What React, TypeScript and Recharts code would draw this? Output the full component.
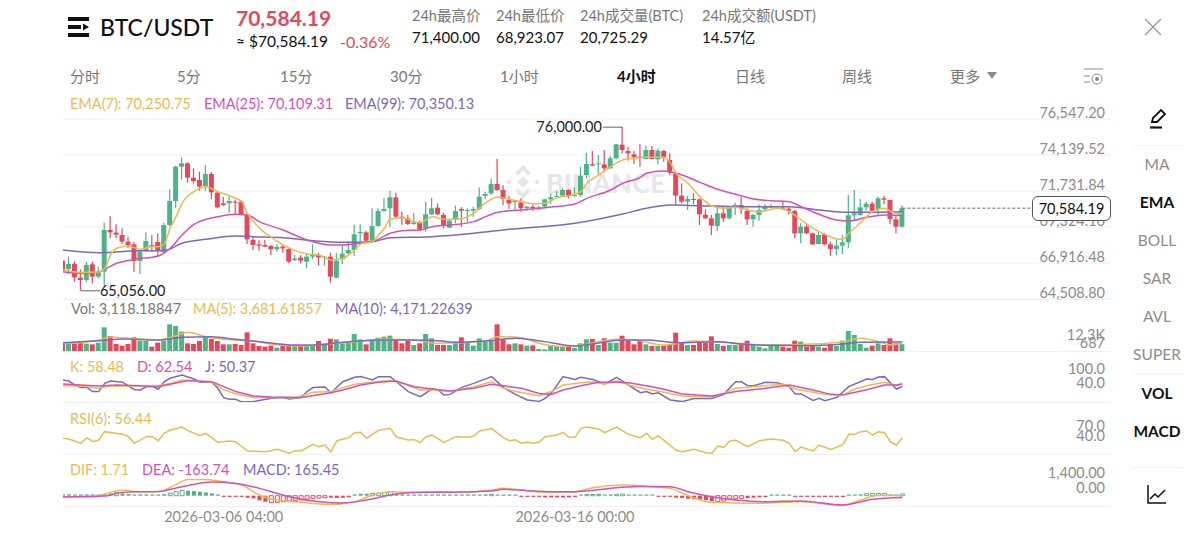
import React from 'react'
import { Bar, CartesianGrid, Cell, ComposedChart, Line, ReferenceDot, ReferenceLine, XAxis, YAxis } from 'recharts'

// 4h candles
const opens = [
  67074,66517,66851,65937,65781,66829,66004,66339,69125,68947,
  68790,68345,68166,67052,67788,68100,68322,67676,69459,71064,
  73360,73583,72624,72468,72067,72870,71621,70908,70908,71020,
  71020,70172,68456,68166,68122,68055,67832,68010,67854,67119,
  67275,67007,67342,67453,67275,67342,65937,67163,67565,67787,
  68902,68969,68411,69392,70395,70574,71309,70017,69905,69526,
  69637,69236,70172,70618,70128,69281,69838,70529,70395,70418,
  70529,71398,71577,72201,71800,71131,71020,70975,70574,70685,
  70574,70685,71176,71332,71421,71800,71398,71465,72803,73516,
  73516,73516,73249,73917,74831,74408,74185,74029,73873,74474,
  73850,74408,73806,72914,71421,71020,71198,71176,70150,69905,
  69392,70239,69905,70685,70797,70395,69838,70128,70507,70641,
  70596,70618,70551,70395,68902,69348,68902,68189,68835,68166,
  67854,68077,68300,70106,70128,70641,70886,70507,71242,71131,
  69838,69348,
]
const highs = [
  67163,67342,67007,66495,67007,67007,66673,69615,70061,69504,
  69236,68679,68345,67788,68969,68790,68902,69615,71844,73427,
  73984,73650,73249,73026,73471,73026,71700,71354,71354,71131,
  71131,70239,68724,68456,68456,68122,68166,68122,67899,67453,
  67453,67498,68166,67609,67386,67609,67609,68122,68345,69459,
  69504,69080,70574,70574,71242,71755,71621,70351,70128,70239,
  69749,71020,71287,70908,70284,69838,70752,70641,70574,70685,
  71978,71688,72535,73873,72134,71421,71131,71242,70730,70774,
  70730,71220,71577,71755,71911,71844,71978,73360,74296,74408,
  74140,74474,74096,74876,76000,74697,74408,74853,74764,74742,
  74586,74474,74252,72959,72246,71398,71577,71220,70507,70128,
  70730,70685,70730,70953,71309,70574,70195,70841,70864,70864,
  70685,71020,70641,70462,69571,69459,68947,68969,68902,68345,
  68456,68790,71465,71800,71198,71020,71020,71354,71400,71150,
  70061,70774,
]
const lows = [
  66272,66183,65670,65056,65670,65558,65893,65447,68568,68568,
  68189,67899,66339,66183,67676,67676,67342,67565,69392,70574,
  72513,72290,72246,71755,71755,71176,70574,70730,70284,70128,
  70100,68189,67787,67743,67980,67453,67676,67609,66896,67052,
  66896,66561,67163,66740,66740,65603,65893,66851,67520,67386,
  68233,68345,68345,69348,70351,69303,69838,69459,69459,69459,
  69080,69013,70128,70128,69236,69236,69571,69348,69682,70017,
  70462,71176,71465,71755,70797,70529,70418,70351,70418,70418,
  70462,70641,70864,71309,71354,71242,71354,71354,72580,73405,
  72870,72981,73220,73850,74252,73761,73538,73360,73850,73850,
  73516,73694,72803,70797,70908,70462,70864,69459,69860,68790,
  69080,69682,69838,70128,70195,69459,69348,69749,70395,70574,
  70574,70462,70172,68568,68233,68857,68122,68166,68122,67386,
  67453,67498,67943,69749,70083,70418,70284,70061,70841,69526,
  68902,69281,
]
const closes = [
  66450,66851,65960,65781,66784,66004,66316,69125,68969,68813,
  68345,68122,67052,67676,68389,68010,67721,69459,71064,73360,
  73583,72624,72402,72023,72870,71644,70641,70797,71064,70953,
  70128,68501,68122,68077,68010,67832,67988,67899,67007,67208,
  67074,67342,67498,67297,67342,66004,67074,67542,67787,68835,
  68991,68411,69392,70395,70529,71309,70017,69905,69526,69637,
  69169,70172,70574,70172,69415,69749,70395,70418,70462,70529,
  71354,71532,72201,71800,71198,70908,71064,70574,70685,70596,
  70641,71176,71309,71398,71800,71421,71465,72758,73538,73427,
  73583,73249,73917,74853,74474,74252,73984,73984,74474,73873,
  74430,73984,72959,71421,71020,71198,71131,70172,69905,69415,
  70239,69905,70641,70797,70574,69838,70128,70462,70685,70685,
  70641,70574,70418,68902,69348,68902,68166,68790,68166,67854,
  68077,68300,70106,70239,70641,70886,70418,71242,71153,69860,
  69348,70584.19,
]
const volumes = [
  3542,3542,3850,4620,3388,3080,3850,10934,6930,3234,
  2464,3234,6314,4774,4620,2002,3850,4774,12320,11550,
  8932,3542,3234,4620,6622,5544,4620,3080,3080,3234,
  2772,8624,3542,2310,2002,2464,1540,2310,2464,2464,
  2310,2464,2464,4620,2772,5698,5390,3542,4312,7854,
  5390,3080,5236,6160,6622,7084,5544,3542,4620,2772,
  3542,7854,5852,2772,2772,2772,4312,6314,3850,2464,
  5852,4312,4774,12320,5390,3080,3542,3080,2464,2618,
  924,770,2464,2002,2002,2002,1386,3542,5390,5544,
  2772,5852,3850,3850,7084,4774,3080,4774,3080,2310,
  2310,2464,3080,8470,3850,2772,2772,4312,3850,6776,
  3234,2310,2772,2772,3080,4774,3080,2002,1232,2772,
  2310,2002,1540,4774,4312,2002,2464,2002,1540,3234,
  2310,4774,9240,7392,3234,1540,2464,3542,2772,5852,
  3542,3118,
]
const macdBars = [
  121,121,61,61,121,61,61,152,212,273,
  212,152,61,121,61,30,20,152,212,364,
  485,455,424,364,303,212,121,-61,-61,-61,
  -91,-182,-242,-424,-545,-636,-606,-545,-485,-424,
  -394,-303,-242,-212,-182,-182,-212,-182,-152,121,
  182,182,212,242,303,364,182,121,91,61,
  61,91,61,30,30,30,61,91,91,91,
  91,121,121,30,30,30,30,-61,-91,-61,
  -91,-152,-152,-152,-152,-152,-30,61,61,91,
  91,61,91,121,152,61,30,30,30,30,
  -30,-61,-61,-182,-212,-273,-303,-333,-394,-485,
  -545,-485,-303,-273,-242,-212,-182,-152,-121,61,
  91,91,61,-61,-61,-61,-61,-61,-121,-61,
  -121,-121,61,91,121,182,212,212,212,121,
  61,165.45,
]
const macdHollow = [9,18,19,20,35,36,37,38,39,40,41,42,43,44,52,53,54,55,72,88,89,90,93,94,110,111,112,113,114,135,136,137,138,141]

// line series: [candle index, value]
type Pt = [number, number]
const ema7: Pt[] = [[0,66450],[3,66294],[6,66316],[7,66561],[8,67453],[9,67899],[11,68055],[13,67832],[15,68010],[16,68010],[17,68189],[18,69236],[19,70017],[20,70908],[22,71688],[24,72023],[26,71688],[28,71398],[30,71020],[31,70239],[33,69236],[35,68634],[37,68122],[39,67743],[41,67520],[43,67453],[45,67119],[47,67230],[49,67787],[50,68189],[52,68345],[53,68791],[54,69236],[55,69860],[57,69950],[59,69682],[60,69615],[62,70017],[64,69838],[66,69838],[69,70239],[71,70953],[73,71309],[75,71176],[77,71020],[79,70864],[81,70908],[83,71287],[85,71421],[87,71688],[88,72246],[90,72803],[92,73360],[94,73806],[96,73917],[98,73984],[101,73984],[102,73627],[103,72914],[105,72246],[107,71354],[109,70730],[111,70574],[113,70641],[115,70462],[117,70351],[120,70574],[122,70351],[124,69794],[126,69236],[128,68835],[130,68523],[131,68501],[132,68902],[134,69615],[136,70351],[138,70574],[140,70195],[141,70250]]
const ema25: Pt[] = [[0,66339],[3,66227],[6,66339],[9,66896],[12,67163],[16,67386],[18,67899],[20,68791],[22,69504],[24,69838],[26,70017],[29,70172],[31,70128],[33,69682],[37,69125],[41,68456],[45,68122],[47,68122],[49,68189],[50,68233],[52,68345],[55,68902],[57,69080],[60,69125],[62,69348],[65,69459],[69,69682],[71,70017],[73,70306],[77,70462],[81,70618],[86,70864],[88,71242],[92,71800],[94,72246],[97,72647],[98,72914],[101,73070],[104,72803],[107,72312],[110,71844],[113,71510],[116,71198],[119,71086],[122,71020],[124,70685],[127,70172],[130,69794],[132,69727],[135,69972],[138,70128],[141,70109]]
const ema99: Pt[] = [[0,67787],[6,67609],[13,67743],[17,67743],[20,68233],[24,68501],[29,68724],[32,68680],[37,68612],[42,68411],[47,68300],[52,68345],[55,68612],[62,68680],[69,68902],[75,69169],[86,69571],[94,70195],[98,70574],[102,70797],[107,70752],[114,70685],[122,70685],[127,70462],[132,70306],[141,70350]]
const ma5: Pt[] = [[0,3542],[3,3850],[6,5082],[8,6468],[11,5852],[16,5082],[19,7084],[21,8624],[24,6622],[27,5390],[32,4620],[36,2772],[40,2310],[44,3080],[49,4312],[54,5390],[59,5082],[63,3542],[71,4620],[73,6622],[77,6160],[80,3542],[84,2002],[87,2772],[93,5390],[96,5082],[101,2772],[106,4620],[111,4004],[118,2772],[126,3234],[131,4312],[134,5852],[137,4312],[139,2772],[141,3681]]
const ma10: Pt[] = [[0,3850],[3,4312],[7,4928],[10,5544],[16,5082],[20,6314],[25,6622],[29,5390],[33,4312],[39,2772],[42,2772],[47,4004],[53,5082],[58,5082],[63,4774],[66,4004],[71,4620],[76,5852],[79,5082],[82,3850],[86,2310],[89,3234],[94,5082],[98,5082],[103,3850],[110,4312],[114,3234],[119,2618],[126,2464],[131,3234],[134,4004],[141,4171]]
const kdjK: Pt[] = [[0,54],[3,53],[6,43],[8,54],[12,53],[16,54],[18,64],[20,79],[22,74],[25,69],[27,36],[29,20],[32,4],[35,4],[39,3],[42,26],[45,29],[47,46],[49,60],[52,69],[55,77],[57,64],[60,36],[62,37],[65,29],[69,50],[72,71],[74,43],[76,29],[80,11],[82,29],[84,57],[87,67],[89,71],[91,61],[93,76],[95,57],[98,39],[101,26],[104,10],[109,7],[111,21],[113,43],[118,54],[121,61],[123,40],[126,26],[128,17],[131,14],[133,40],[135,54],[138,69],[140,54],[141,58.48]]
const kdjD: Pt[] = [[0,61],[3,57],[6,53],[9,57],[13,54],[16,50],[18,60],[21,76],[25,71],[27,50],[29,29],[32,10],[35,6],[40,4],[45,24],[47,36],[50,57],[53,69],[56,74],[59,50],[62,40],[65,31],[69,43],[72,60],[74,54],[77,43],[80,21],[82,17],[84,36],[87,54],[90,69],[93,69],[95,67],[98,54],[101,39],[104,19],[109,10],[113,29],[118,43],[122,57],[126,36],[129,17],[131,14],[135,37],[138,57],[140,57],[141,62.54]]
const kdjJ: Pt[] = [[0,79],[1,74],[2,57],[3,46],[4,47],[5,29],[6,29],[7,64],[8,74],[10,69],[12,37],[13,36],[14,50],[15,51],[16,39],[17,71],[18,86],[20,100],[22,83],[23,69],[25,69],[26,43],[27,3],[28,-4],[29,-4],[30,-15],[32,-14],[35,0],[37,4],[38,-3],[40,3],[41,29],[42,46],[44,49],[45,24],[47,71],[49,90],[50,94],[52,79],[53,93],[55,93],[56,71],[58,29],[60,7],[62,40],[63,36],[64,14],[65,17],[67,47],[69,64],[72,93],[74,46],[76,17],[78,-7],[80,-13],[81,0],[82,21],[84,93],[86,81],[87,90],[89,81],[91,61],[93,90],[95,57],[97,24],[98,29],[99,19],[100,24],[102,-7],[104,-14],[106,-1],[109,-1],[111,17],[113,71],[114,71],[115,54],[116,54],[118,69],[120,67],[122,50],[123,19],[124,19],[126,-9],[127,0],[128,-10],[130,4],[132,50],[135,83],[136,81],[137,91],[138,93],[140,40],[141,50.37]]
const rsi6: Pt[] = [[0,54.5],[1,52.5],[3,39.5],[4,56.5],[5,44.5],[6,49.5],[7,74.5],[10,66.5],[11,59.5],[12,39.5],[14,59.5],[15,59.5],[16,47.5],[17,69.5],[18,79.5],[20,88.5],[21,77.5],[23,62.5],[24,69.5],[26,42.5],[28,46.5],[29,44.5],[31,16.5],[34,14.5],[36,21.5],[38,10],[39,17.5],[40,16.5],[42,36.5],[43,29.5],[44,34.5],[45,13.5],[46,47.5],[48,56.5],[49,71.5],[50,72.5],[51,54.5],[53,78.5],[55,84.5],[56,58.5],[58,49.5],[59,50.5],[60,42.5],[61,59.5],[62,64.5],[64,42.5],[66,59.5],[68,57.5],[69,61.5],[70,77],[72,83.5],[74,56.5],[75,47.5],[76,50.5],[77,39.5],[78,43.5],[79,39.5],[80,43.5],[81,59.5],[83,64.5],[84,72.5],[85,57.5],[86,57.5],[87,84.5],[88,88.5],[90,82.5],[91,71.5],[93,88.5],[95,66.5],[97,56.5],[98,69.5],[99,51.5],[100,62.5],[103,18.5],[104,14.5],[106,21.5],[108,11.5],[109,10],[110,31.5],[111,27.5],[112,46.5],[113,48.5],[115,29.5],[117,47.5],[119,52.5],[121,48.5],[122,39.5],[123,14.5],[124,28.5],[126,16.5],[127,34.5],[129,21.5],[131,35.5],[132,66.5],[133,66.5],[134,74.5],[135,76.5],[136,64.5],[137,74.5],[138,71.5],[139,43.5],[140,34.5],[141,56.44]]
const dif: Pt[] = [[0,-91],[5,-91],[7,152],[10,485],[13,364],[16,364],[19,1030],[21,1485],[24,1485],[27,1273],[30,970],[33,61],[35,-303],[40,-606],[45,-788],[49,-545],[52,61],[55,364],[59,303],[63,364],[67,303],[72,515],[74,667],[77,515],[81,303],[86,364],[89,727],[94,970],[99,818],[102,667],[105,0],[109,-606],[116,-697],[124,-545],[131,-880],[134,-394],[137,30],[141,1.71]]
const dea: Pt[] = [[0,-121],[7,-30],[10,303],[16,394],[20,818],[25,1242],[29,1121],[33,667],[38,-91],[43,-545],[47,-667],[51,-394],[56,152],[61,303],[67,333],[72,424],[74,576],[78,455],[82,364],[86,364],[93,727],[97,848],[102,818],[105,364],[109,-91],[113,-394],[118,-545],[124,-485],[131,-848],[136,-333],[141,-163.74]]

const priceTicks = [64508.8, 66916.48, 69324.16, 71731.84, 74139.52, 76547.2]
const lastPrice = 70584.19
const dateTicks = [27, 86]
const dateLabels = ['2026-03-06 04:00', '2026-03-16 00:00']

const UP = '#4fb387'
const DOWN = '#e3495c'
const YELLOW = '#ebba52'
const PINK = '#d552b4'
const PURPLE = '#7c69bd'
const GRAY = '#8c8c8c'
const FONT = 'Lato, "Noto Sans CJK SC", sans-serif'
const XMAX = 176.05
const PLOT_W = 1048

const candles = opens.map((open, i) => ({ i, open, high: highs[i], low: lows[i], close: closes[i] }))
const volRows = volumes.map((vol, i) => ({ i, vol, up: closes[i] >= opens[i] }))
const macdRows = macdBars.map((macd, i) => ({ i, macd, hollow: macdHollow.includes(i) }))
const pts = (list: Pt[]) => list.map(([i, v]) => ({ i, v }))

const Candle = (props: any) => {
  const { x, y, width, height, payload } = props
  const top = Math.min(y, y + height)
  const h = Math.abs(height)
  const range = payload.high - payload.low || 1
  const toY = (p: number) => top + ((payload.high - p) / range) * h
  const up = payload.close >= payload.open
  const color = up ? UP : DOWN
  const bodyTop = toY(Math.max(payload.open, payload.close))
  const bodyBot = toY(Math.min(payload.open, payload.close))
  const cx = x + width / 2
  return (
    <g>
      <line x1={cx} x2={cx} y1={top} y2={top + h} stroke={color} strokeWidth={1.2} />
      <rect x={x} y={bodyTop} width={width} height={Math.max(bodyBot - bodyTop, 1)} fill={color} />
    </g>
  )
}

const sideTick = (labelOf: (v: number) => string, dyOf: (v: number) => number) => (p: any) => (
  <text x={1042} y={p.y + dyOf(p.payload.value)} textAnchor="end" dominantBaseline="central" fontSize={14.5} fontFamily={FONT} fill={GRAY}>
    {labelOf(p.payload.value)}
  </text>
)

const money = (v: number) => v.toLocaleString('en-US', { minimumFractionDigits: 2, maximumFractionDigits: 2 })

const xAxis = <XAxis dataKey="i" type="number" domain={[0, XMAX]} allowDataOverflow hide />
const thin = { dot: false, isAnimationActive: false, strokeWidth: 1.5, dataKey: 'v', legendType: 'none' as const }

const Txt = ({ x, y, size = 14.5, color = '#111', weight = 400, right = false, center = false, children }: any) => (
  <div
    style={{
      position: 'absolute',
      left: x,
      top: y,
      fontSize: size,
      color,
      fontWeight: weight,
      whiteSpace: 'nowrap',
      lineHeight: 1,
      transform: center ? 'translate(-50%,-50%)' : right ? 'translate(-100%,-50%)' : 'translateY(-50%)',
    }}
  >
    {children}
  </div>
)

const pane = (top: number, height: number): React.CSSProperties => ({ position: 'absolute', left: 63, top, width: PLOT_W, height })

const Rule = ({ y, x = 63, w = 1048, color = '#f0f0f0' }: any) => (
  <div style={{ position: 'absolute', left: x, top: y, width: w, height: 1, background: color }} />
)

const headerStats = [
  { x: 412, label: '24h最高价', value: '71,400.00' },
  { x: 496, label: '24h最低价', value: '68,923.07' },
  { x: 580, label: '24h成交量(BTC)', value: '20,725.29' },
  { x: 702, label: '24h成交额(USDT)', value: '14.57亿' },
]
const tabs = [
  { x: 70, t: '分时' },
  { x: 177, t: '5分' },
  { x: 280, t: '15分' },
  { x: 390, t: '30分' },
  { x: 500, t: '1小时' },
  { x: 617, t: '4小时', on: true },
  { x: 735, t: '日线' },
  { x: 842, t: '周线' },
  { x: 950, t: '更多' },
]
const sideItems = [
  { y: 165, t: 'MA' },
  { y: 203, t: 'EMA', on: true },
  { y: 241, t: 'BOLL' },
  { y: 279, t: 'SAR' },
  { y: 317, t: 'AVL' },
  { y: 355, t: 'SUPER' },
  { y: 394, t: 'VOL', on: true },
  { y: 432, t: 'MACD', on: true },
]

const App = () => (
  <div style={{ position: 'absolute', left: 0, top: 0, width: 1200, height: 540, overflow: 'hidden', background: '#fff', fontFamily: FONT }}>
    {/* header */}
    <svg style={{ position: 'absolute', left: 68, top: 17 }} width={22} height={21}>
      <rect x={0} y={0} width={21} height={4} fill="#111" />
      <rect x={0} y={8} width={13} height={4} fill="#111" />
      <path d="M15 6.5 L21 10 L15 13.5 Z" fill="#111" />
      <rect x={0} y={16} width={21} height={4} fill="#111" />
    </svg>
    <Txt x={100} y={27} size={23} weight={500}>BTC/USDT</Txt>
    <Txt x={236} y={17} size={21} weight={700} color={DOWN}>70,584.19</Txt>
    <Txt x={236} y={42} size={15.5}>≈ $70,584.19</Txt>
    <Txt x={340} y={42} size={16} color={DOWN}>-0.36%</Txt>
    {headerStats.map((s) => (
      <React.Fragment key={s.x}>
        <Txt x={s.x} y={16} size={14.5} color="#777">{s.label}</Txt>
        <Txt x={s.x} y={37} size={15}>{s.value}</Txt>
      </React.Fragment>
    ))}
    <svg style={{ position: 'absolute', left: 1144, top: 18 }} width={18} height={18}>
      <path d="M1 1 L17 17 M17 1 L1 17" stroke="#9a9a9a" strokeWidth={1.4} />
    </svg>
    {tabs.map((t) => (
      <Txt key={t.x} x={t.x} y={76} size={15} color={t.on ? '#111' : '#777'} weight={t.on ? 700 : 400}>{t.t}</Txt>
    ))}
    <svg style={{ position: 'absolute', left: 987, top: 72 }} width={11} height={8}>
      <path d="M0 0 L10 0 L5 7 Z" fill="#8c8c8c" />
    </svg>
    <svg style={{ position: 'absolute', left: 1083, top: 67 }} width={22} height={20} fill="none" stroke="#8c8c8c">
      <path d="M1 2 H20 M1 9 H7 M1 15 H7" />
      <circle cx={14} cy={12} r={5} />
      <circle cx={14} cy={12} r={1.5} fill="#8c8c8c" />
    </svg>

    {/* watermark */}
    <svg style={{ position: 'absolute', left: 505, top: 164 }} width={36} height={36} fill="#e6e6e6">
      <g transform="rotate(45 18 18)">
        <rect x={14} y={14} width={8} height={8} />
        <rect x={6} y={6} width={11} height={4} />
        <rect x={6} y={6} width={4} height={11} />
        <rect x={19} y={26} width={11} height={4} />
        <rect x={26} y={19} width={4} height={11} />
        <rect x={26} y={6} width={4} height={4} />
        <rect x={6} y={26} width={4} height={4} />
      </g>
    </svg>
    <Txt x={546} y={182} size={27} weight={700} color="#e6e6e6">BINANCE</Txt>

    {/* frame and time lines behind all panes */}
    <ComposedChart style={pane(92, 435)} width={PLOT_W} height={435} data={candles} margin={{ top: 0, right: 0, bottom: 0, left: 0 }}>
      {xAxis}
      <YAxis hide domain={[0, 1]} />
      {dateTicks.map((d) => (
        <ReferenceLine key={d} x={d} stroke="#f2f2f2" />
      ))}
      <ReferenceLine x={0} stroke="#eeeeee" />
      <ReferenceLine x={XMAX} stroke="#eeeeee" ifOverflow="extendDomain" />
    </ComposedChart>
    <Rule y={299} />
    <Rule y={351} />
    <Rule y={402} />
    <Rule y={454} />
    <Rule y={506} />

    {/* price pane */}
    <ComposedChart style={pane(92, 208)} width={PLOT_W} height={208} data={candles} margin={{ top: 27, right: 0, bottom: 1, left: 0 }}>
      <CartesianGrid vertical={false} stroke="#f0f0f0" />
      {xAxis}
      <YAxis
        orientation="right"
        mirror
        domain={[64508.8, 76547.2]}
        ticks={priceTicks}
        interval={0}
        axisLine={false}
        tickLine={false}
        allowDataOverflow
        tick={sideTick(money, () => -6.5)}
      />
      <Bar dataKey={(d: any) => [d.low, d.high]} barSize={5} shape={<Candle />} isAnimationActive={false} />
      <Line data={pts(ema99)} stroke={PURPLE} type="monotone" {...thin} />
      <Line data={pts(ema25)} stroke={PINK} type="monotone" {...thin} />
      <Line data={pts(ema7)} stroke={YELLOW} type="monotone" {...thin} />
      <ReferenceLine segment={[{ x: 141, y: lastPrice }, { x: 162.8, y: lastPrice }]} stroke="#666" strokeDasharray="3 2" />
      <ReferenceLine segment={[{ x: 90.7, y: 76000 }, { x: 94, y: 76000 }]} stroke="#666" />
      <ReferenceDot x={90.7} y={76000} r={0} stroke="none" label={{ value: '76,000.00', position: 'left', offset: 1, fontSize: 14.5, fill: '#222', fontFamily: FONT }} />
      <ReferenceLine segment={[{ x: 3, y: 65056 }, { x: 6.2, y: 65056 }]} stroke="#666" />
      <ReferenceDot x={6.2} y={65056} r={0} stroke="none" label={{ value: '65,056.00', position: 'right', offset: 0, fontSize: 14.5, fill: '#222', fontFamily: FONT }} />
    </ComposedChart>
    <div
      style={{
        position: 'absolute',
        left: 1032,
        top: 196,
        width: 79,
        height: 25,
        boxSizing: 'border-box',
        border: '1px solid #555',
        borderRadius: 6,
        background: '#fff',
        fontSize: 14.5,
        color: '#111',
        lineHeight: '23px',
        textAlign: 'center',
      }}
    >
      70,584.19
    </div>
    <Txt x={70} y={104} color={YELLOW}>EMA(7): 70,250.75</Txt>
    <Txt x={204} y={104} color={PINK}>EMA(25): 70,109.31</Txt>
    <Txt x={345} y={104} color={PURPLE}>EMA(99): 70,350.13</Txt>

    {/* volume */}
    <ComposedChart style={pane(299, 52)} width={PLOT_W} height={52} data={volRows} margin={{ top: 0, right: 0, bottom: 0, left: 0 }}>
      {xAxis}
      <YAxis
        orientation="right"
        mirror
        domain={[0, 24024]}
        ticks={[687, 12300]}
        interval={0}
        axisLine={false}
        tickLine={false}
        tick={sideTick((v) => (v > 1000 ? '12.3K' : '687'), (v) => (v > 1000 ? 10 : -7.5))}
      />
      <Bar dataKey="vol" barSize={5} isAnimationActive={false}>
        {volRows.map((r) => (
          <Cell key={r.i} fill={r.up ? UP : DOWN} />
        ))}
      </Bar>
      <Line data={pts(ma5)} stroke={YELLOW} type="monotone" {...thin} />
      <Line data={pts(ma10)} stroke={PURPLE} type="monotone" {...thin} />
    </ComposedChart>
    <Txt x={71} y={309} color="#777">Vol: 3,118.18847</Txt>
    <Txt x={193} y={309} color={YELLOW}>MA(5): 3,681.61857</Txt>
    <Txt x={335} y={309} color={PURPLE}>MA(10): 4,171.22639</Txt>

    {/* KDJ */}
    <ComposedChart style={pane(351, 51)} width={PLOT_W} height={51} data={candles} margin={{ top: 0, right: 0, bottom: 0, left: 0 }}>
      {xAxis}
      <YAxis
        orientation="right"
        mirror
        domain={[-15.7, 202.9]}
        ticks={[40, 100]}
        interval={0}
        axisLine={false}
        tickLine={false}
        tick={sideTick((v) => v.toFixed(1), () => -7)}
      />
      <Line data={pts(kdjJ)} stroke={PURPLE} {...thin} />
      <Line data={pts(kdjK)} stroke={YELLOW} {...thin} />
      <Line data={pts(kdjD)} stroke={PINK} {...thin} />
    </ComposedChart>
    <Txt x={70} y={367} color={YELLOW}>K: 58.48</Txt>
    <Txt x={137} y={367} color={PINK}>D: 62.54</Txt>
    <Txt x={205} y={367} color={PURPLE}>J: 50.37</Txt>

    {/* RSI */}
    <ComposedChart style={pane(402, 52)} width={PLOT_W} height={52} data={candles} margin={{ top: 0, right: 0, bottom: 0, left: 0 }}>
      {xAxis}
      <YAxis
        orientation="right"
        mirror
        domain={[7.5, 163.5]}
        ticks={[40, 70]}
        interval={0}
        axisLine={false}
        tickLine={false}
        tick={sideTick((v) => v.toFixed(1), () => -8)}
      />
      <Line data={pts(rsi6)} stroke={YELLOW} {...thin} />
    </ComposedChart>
    <Txt x={70} y={419} color={YELLOW}>RSI(6): 56.44</Txt>

    {/* MACD + time axis */}
    <ComposedChart style={pane(454, 74)} width={PLOT_W} height={74} data={macdRows} margin={{ top: 0, right: 0, bottom: 0, left: 0 }}>
      <XAxis
        dataKey="i"
        type="number"
        domain={[0, XMAX]}
        allowDataOverflow
        ticks={dateTicks}
        interval={0}
        height={22}
        axisLine={false}
        tickLine={false}
        tickMargin={0}
        tickFormatter={(v: number) => dateLabels[dateTicks.indexOf(v)]}
        tick={{ fontSize: 14.5, fill: GRAY, fontFamily: FONT }}
      />
      <YAxis
        orientation="right"
        mirror
        domain={[-937, 3795]}
        ticks={[0, 1400]}
        interval={0}
        axisLine={false}
        tickLine={false}
        tick={sideTick(money, () => -8)}
      />
      <Bar dataKey="macd" barSize={4} minPointSize={1.2} isAnimationActive={false}>
        {macdRows.map((r) => {
          const color = r.macd >= 0 ? UP : DOWN
          return <Cell key={r.i} fill={r.hollow ? '#fff' : color} stroke={color} strokeWidth={r.hollow ? 1 : 0} />
        })}
      </Bar>
      <Line data={pts(dif)} stroke={YELLOW} type="monotone" {...thin} />
      <Line data={pts(dea)} stroke={PINK} type="monotone" {...thin} />
    </ComposedChart>
    <Txt x={70} y={470} color={YELLOW}>DIF: 1.71</Txt>
    <Txt x={142} y={470} color={PINK}>DEA: -163.74</Txt>
    <Txt x={243} y={470} color={PURPLE}>MACD: 165.45</Txt>

    {/* side menu */}
    <svg style={{ position: 'absolute', left: 1147, top: 108 }} width={22} height={22} fill="none" stroke="#111" strokeWidth={1.8}>
      <path d="M5 14 L6 10 L14 2 L18 6 L10 14 Z" />
      <path d="M3 19.5 H15" strokeWidth={2.2} />
    </svg>
    <Rule x={1133} w={50} y={145} color="#f2f2f2" />
    {sideItems.map((s) => (
      <Txt key={s.t} x={1157} y={s.y} size={15.5} center color={s.on ? '#111' : '#8c8c8c'} weight={s.on ? 700 : 400}>{s.t}</Txt>
    ))}
    <Rule x={1133} w={50} y={373} color="#f2f2f2" />
    <Rule x={1133} w={50} y={467} color="#f2f2f2" />
    <svg style={{ position: 'absolute', left: 1146, top: 483 }} width={22} height={22} fill="none" stroke="#111" strokeWidth={1.5}>
      <path d="M2 2 V20 H20" />
      <path d="M4 16 L9 11 L12 14 L19 7" />
    </svg>
  </div>
)

export default App
